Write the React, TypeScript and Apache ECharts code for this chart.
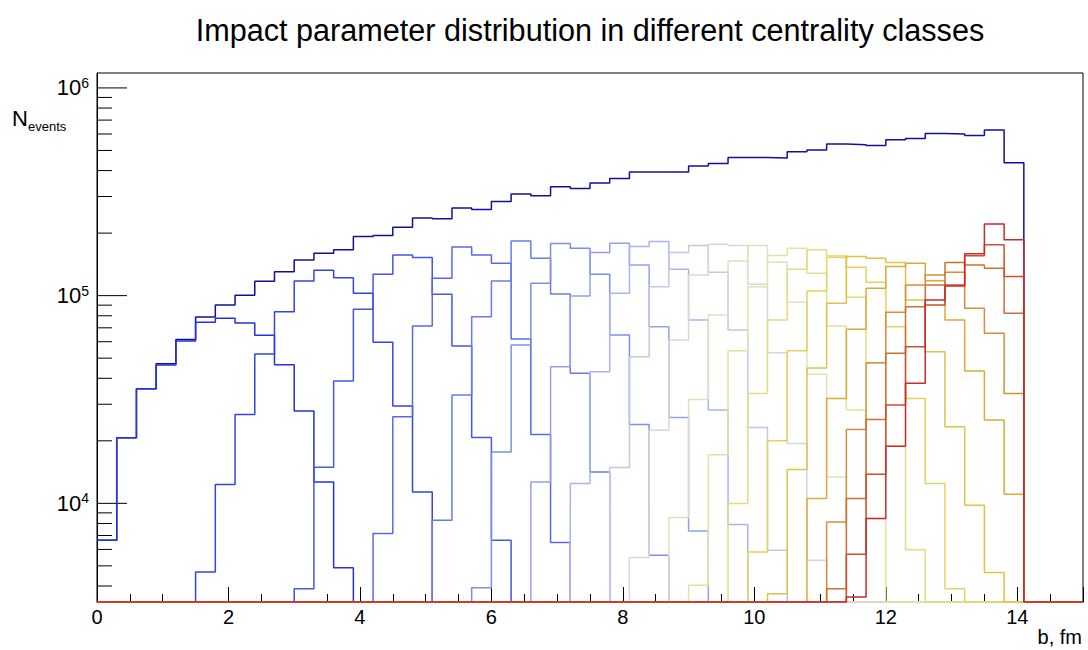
import React, { useEffect, useRef } from "react";
import * as echarts from "echarts";

// ---------- data ----------
const binWidth = 0.3; // fm
const nBins = 50;
const yAxisMin = 3350;
const yAxisMax = 1.18e6;

const totalCounts = [
  6640, 20670, 35610, 46990, 61490, 78930, 90220, 100400, 117300, 130500,
  148600, 160100, 166100, 192500, 194700, 213700, 236200, 234300, 263900, 259800,
  283900, 308300, 302500, 334300, 328000, 348300, 366600, 393600, 393600, 393600,
  420700, 433100, 462900, 462900, 459800, 493100, 502500, 537000, 532900, 528700,
  563200, 571400, 604000, 600000, 590800, 627300, 436400,
];

// first non-empty bin of each centrality class
const classFirstBin = [0, 5, 10, 14, 17, 19, 22, 24, 26, 27, 29, 30, 32, 33, 34, 36, 37, 37, 38, 38];

const class01 = [6640, 20670, 35610, 46330, 60470, 74400, 77800, 73850, 64440, 46480, 27810, 12680, 4900];
const class02 = [4670, 12320, 26810, 52350, 83730, 117700, 132600, 122100, 102700, 59600, 29390, 11350];
const class03 = [3883, 14930, 38790, 85990, 126800, 157100, 152500, 101600, 57210, 20770, 6640];
const class04 = [7151, 26100, 71420, 121300, 171700, 157100, 143300, 61830, 21470, 6471];
const class05 = [8288, 33200, 79190, 117700, 183500, 151500, 101900, 42250, 14170];
const class06 = [3927, 17690, 57840, 114700, 178100, 169300, 126800, 64650, 23990, 5620];
const class07 = [12680, 45470, 99670, 161200, 178900, 140600, 70860, 25930, 7360];
const class08 = [12460, 43010, 102700, 172300, 182200, 134100, 76340, 28120, 7904];
const class09 = [14880, 50810, 110500, 161200, 174200, 129700, 68330, 23210, 5940];
const class10 = [5480, 22510, 61150, 125800, 176900, 174200, 113500, 53120, 19430, 5318];
const class11 = [8542, 31660, 80700, 147000, 174200, 144900, 92940, 41790, 13410];
const class12 = [4029, 17120, 54300, 110500, 155900, 169300, 128200, 71420, 28120, 8448];
const class13 = [9977, 33830, 76340, 134100, 166100, 155400, 98240, 47530, 18850, 5985];
const class14 = [5832, 20000, 54300, 105400, 153200, 137100, 116000, 70860, 32010, 12460, 3883];
const class15 = [3673, 14550, 44810, 91920, 154200, 151500, 144300, 95350, 53700, 23360, 9790, 4650];
const class16 = [10550, 32010, 68870, 108600, 138000, 143300, 118100, 76340, 43340, 25160, 11070];
const class17 = [8136, 22690, 47530, 83180, 112600, 125800, 129700, 86940, 65870, 33830];
const class18 = [3883, 10550, 25360, 52770, 88510, 112600, 144300, 140600, 135600, 82250];
const class19 = [5684, 13810, 29720, 56770, 90220, 112600, 155400, 175600, 123500];
const class20 = [3538, 8448, 18850, 37810, 95350, 111400, 158900, 221000, 185600];

const classCounts = [
  class01, class02, class03, class04, class05, class06, class07, class08, class09, class10,
  class11, class12, class13, class14, class15, class16, class17, class18, class19, class20,
];

const yMajorTicks = [1e4, 1e5, 1e6];
const yMinorTicks = [
  4e3, 5e3, 6e3, 7e3, 8e3, 9e3,
  2e4, 3e4, 4e4, 5e4, 6e4, 7e4, 8e4, 9e4,
  2e5, 3e5, 4e5, 5e5, 6e5, 7e5, 8e5, 9e5,
];

// ---------- styles ----------
const totalColor = "#10109a";
const classColors = [
  "#2432d8", "#3545dc", "#4757de", "#596ae0", "#6a7ce2",
  "#7d8ee4", "#93a2e6", "#a9b5e8", "#c0c8e6", "#d6d6de",
  "#e0e0c0", "#e4e29e", "#e5dc7e", "#e4d25e", "#e0c244",
  "#dcaa3a", "#d68e38", "#d07034", "#cc5030", "#cc2a2a",
];
const FONT = "'Liberation Sans', Arial, Helvetica, sans-serif";

function histogramPoints(counts: number[], firstBin: number): number[][] {
  const pts: number[][] = [];
  for (let i = 0; i < nBins; i++) {
    const k = i - firstBin;
    const c = k >= 0 && k < counts.length ? counts[k] : 0;
    pts.push([Math.round(i * binWidth * 1000) / 1000, Math.max(c, yAxisMin)]);
  }
  pts.push([nBins * binWidth, yAxisMin]);
  return pts;
}

function isPow10(v: number): number | null {
  const l = Math.log10(v);
  const r = Math.round(l);
  return Math.abs(l - r) < 1e-6 ? r : null;
}

export default function App() {
  const ref = useRef<HTMLDivElement>(null);

  useEffect(() => {
    if (!ref.current) return;
    const chart = echarts.init(ref.current, null, { renderer: "svg" });

    const lineSeries: any[] = [];
    lineSeries.push({
      type: "line",
      name: "total",
      step: "end",
      data: histogramPoints(totalCounts, 0),
      showSymbol: false,
      symbol: "none",
      lineStyle: { color: totalColor, width: 1.5 },
      itemStyle: { color: totalColor },
      silent: true,
      emphasis: { disabled: true },
    });
    classCounts.forEach((counts, idx) => {
      lineSeries.push({
        type: "line",
        name: "class" + (idx + 1),
        step: "end",
        data: histogramPoints(counts, classFirstBin[idx]),
        showSymbol: false,
        symbol: "none",
        lineStyle: { color: classColors[idx], width: 1.5 },
        itemStyle: { color: classColors[idx] },
        silent: true,
        emphasis: { disabled: true },
      });
    });

    const tickData = [
      ...yMajorTicks.map((v) => [0, v, 1]),
      ...yMinorTicks.map((v) => [0, v, 0]),
    ];

    chart.setOption({
      animation: false,
      backgroundColor: "#ffffff",
      grid: {
        left: 97,
        top: 73,
        right: 5,
        bottom: 48,
        show: true,
        borderColor: "#000",
        borderWidth: 1,
        backgroundColor: "transparent",
      },
      xAxis: {
        type: "value",
        min: 0,
        max: 15,
        interval: 2,
        axisLine: { show: true, lineStyle: { color: "#000", width: 1 } },
        axisTick: { show: true, inside: true, length: 15, lineStyle: { color: "#000", width: 1 } },
        minorTick: { show: true, splitNumber: 4, length: 8, lineStyle: { color: "#000", width: 1 } },
        splitLine: { show: false },
        axisLabel: {
          show: true,
          showMaxLabel: false,
          margin: 5,
          fontSize: 20,
          fontFamily: FONT,
          color: "#000",
        },
      },
      yAxis: {
        type: "log",
        logBase: 10,
        min: yAxisMin,
        max: yAxisMax,
        axisLine: { show: true, lineStyle: { color: "#000", width: 1 } },
        axisTick: { show: false },
        splitLine: { show: false },
        axisLabel: {
          show: true,
          margin: 8,
          fontFamily: FONT,
          color: "#000",
          formatter: (v: number) => {
            const e = isPow10(v);
            return e === null ? "" : `{b|10}{s|${e}}`;
          },
          rich: {
            b: { fontSize: 22, lineHeight: 24, fontFamily: FONT, color: "#000" },
            s: { fontSize: 14, lineHeight: 14, fontFamily: FONT, color: "#000", verticalAlign: "top" },
          },
        },
      },
      series: [
        {
          type: "custom",
          silent: true,
          clip: false,
          data: tickData,
          renderItem: (_params: any, api: any) => {
            const p = api.coord([api.value(0), api.value(1)]);
            const len = api.value(2) === 1 ? 30 : 15;
            return {
              type: "line",
              shape: { x1: p[0], y1: p[1], x2: p[0] + len, y2: p[1] },
              style: { stroke: "#000", lineWidth: 1 },
            };
          },
        },
        ...lineSeries,
      ],
      graphic: [
        {
          type: "text",
          x: 590,
          y: 30,
          style: {
            text: "Impact parameter distribution in different centrality classes",
            fontSize: 30.6,
            fontFamily: FONT,
            fill: "#000",
            align: "center",
            verticalAlign: "middle",
            textAlign: "center",
            textVerticalAlign: "middle",
          },
        },
        {
          type: "text",
          x: 1082,
          y: 637,
          style: {
            text: "b, fm",
            fontSize: 20,
            fontFamily: FONT,
            fill: "#000",
            align: "right",
            verticalAlign: "middle",
            textAlign: "right",
            textVerticalAlign: "middle",
          },
        },
        {
          type: "text",
          x: 12,
          y: 118,
          style: {
            text: "N",
            fontSize: 22,
            fontFamily: FONT,
            fill: "#000",
            align: "left",
            verticalAlign: "middle",
            textAlign: "left",
            textVerticalAlign: "middle",
          },
        },
        {
          type: "text",
          x: 28,
          y: 126,
          style: {
            text: "events",
            fontSize: 13,
            fontFamily: FONT,
            fill: "#000",
            align: "left",
            verticalAlign: "middle",
            textAlign: "left",
            textVerticalAlign: "middle",
          },
        },
      ],
    });

    return () => chart.dispose();
  }, []);

  return (
    <div
      ref={ref}
      style={{ position: "fixed", left: 0, top: 0, width: 1088, height: 650, background: "#fff" }}
    />
  );
}
